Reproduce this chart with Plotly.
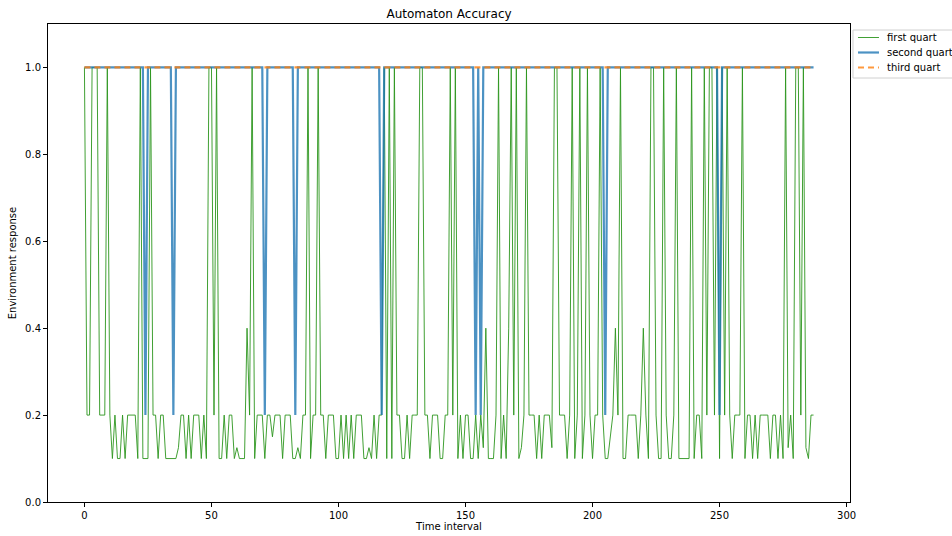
import plotly.graph_objects as go

# Time axis
time_interval = list(range(288))

# first quart (green) environment response
first_quart = [
    1.0, 0.2, 0.2, 1.0, 1.0, 1.0, 0.2, 0.2, 0.2, 1.0,
    0.2, 0.1, 0.2, 0.1, 0.1, 0.2, 0.1, 0.2, 0.2, 0.2,
    0.2, 0.1, 1.0, 0.1, 0.1, 0.1, 1.0, 0.2, 0.2, 0.1,
    0.2, 0.2, 0.1, 0.1, 0.1, 0.1, 0.1, 0.125, 0.2, 0.2,
    0.1, 0.2, 0.1, 0.2, 0.2, 0.2, 0.1, 0.2, 0.1, 1.0,
    1.0, 0.2, 1.0, 0.1, 0.1, 0.2, 0.1, 0.2, 0.2, 0.1,
    0.125, 0.1, 0.1, 0.1, 0.4, 0.2, 1.0, 0.1, 0.2, 0.2,
    0.2, 0.1, 0.2, 0.2, 0.15, 0.2, 0.2, 0.2, 0.1, 0.2,
    0.2, 0.2, 0.1, 0.1, 0.125, 0.1, 0.2, 0.2, 1.0, 0.1,
    0.2, 0.2, 1.0, 0.2, 0.2, 0.1, 0.2, 0.2, 0.2, 0.1,
    0.1, 0.2, 0.1, 0.2, 0.1, 0.2, 0.1, 0.2, 0.2, 0.2,
    0.1, 0.1, 0.125, 0.1, 0.2, 0.1, 0.2, 0.2, 1.0, 0.1,
    1.0, 0.1, 1.0, 0.2, 0.2, 0.1, 0.1, 0.2, 0.1, 0.2,
    0.2, 0.2, 1.0, 1.0, 0.2, 0.2, 0.1, 0.2, 0.2, 0.2,
    0.1, 0.1, 0.2, 0.2, 1.0, 0.2, 1.0, 0.1, 0.2, 0.1,
    0.2, 0.2, 0.1, 0.1, 0.2, 0.1, 0.2, 0.125, 0.4, 0.1,
    0.1, 0.1, 0.2, 1.0, 0.1, 0.2, 0.1, 0.4, 1.0, 0.2,
    1.0, 0.1, 0.125, 0.2, 1.0, 0.2, 0.2, 0.2, 0.1, 0.2,
    0.1, 0.2, 0.2, 0.2, 0.125, 1.0, 1.0, 0.2, 0.2, 0.2,
    0.1, 0.2, 1.0, 0.1, 0.2, 1.0, 0.1, 0.2, 1.0, 0.2,
    0.1, 0.2, 0.2, 1.0, 0.2, 0.1, 0.1, 0.15, 0.2, 0.4,
    0.2, 1.0, 0.1, 0.1, 0.2, 0.2, 0.2, 0.2, 0.1, 0.2,
    0.4, 0.2, 0.1, 1.0, 1.0, 0.2, 0.1, 0.1, 1.0, 0.2,
    0.1, 0.1, 0.2, 1.0, 0.1, 0.1, 0.1, 0.1, 0.1, 1.0,
    0.1, 0.2, 0.2, 0.1, 1.0, 0.2, 1.0, 1.0, 0.2, 1.0,
    0.1, 1.0, 0.2, 1.0, 0.2, 0.1, 0.2, 0.2, 0.2, 1.0,
    0.1, 0.2, 0.2, 0.1, 0.2, 0.1, 0.2, 0.2, 0.2, 0.2,
    0.1, 0.2, 0.2, 0.1, 0.2, 0.1, 1.0, 0.125, 0.2, 0.1,
    1.0, 1.0, 0.2, 1.0, 0.125, 0.1, 0.2, 0.2,
]

# second quart (blue): dips to 0.2 at these intervals, 1.0 elsewhere
second_quart_dip_times = [24, 35, 71, 83, 117, 154, 156, 205, 250]
second_quart_dip_value = 0.2
second_quart = [second_quart_dip_value if t in second_quart_dip_times else 1.0
                for t in time_interval]

# third quart (orange dashed): constant
third_quart = [1.0 for _ in time_interval]

series_names = ["first quart", "second quart", "third quart"]
x_ticks = [0, 50, 100, 150, 200, 250, 300]
y_ticks = [0.0, 0.2, 0.4, 0.6, 0.8, 1.0]

GREEN = "rgba(44,150,30,0.9)"
BLUE = "rgba(31,119,180,0.8)"
ORANGE = "rgba(255,127,14,0.8)"
styles = [
    dict(color=GREEN, width=1),
    dict(color=BLUE, width=2.2),
    dict(color=ORANGE, width=2.2, dash="6px,4px"),
]

fig = go.Figure()
for name, ys, st in zip(series_names, [first_quart, second_quart, third_quart], styles):
    fig.add_trace(go.Scatter(x=time_interval, y=ys, name=name, mode="lines",
                             line=st, showlegend=False))

axis_common = dict(
    showgrid=False, zeroline=False, showline=True, linecolor="black", linewidth=1,
    mirror=True, ticks="outside", ticklen=4, tickcolor="black",
    tickfont=dict(size=10, color="black"), automargin=False,
)

W, H = 952, 536
L, R, T, B = 47.5, 102, 24, 34
pw, ph = W - L - R, H - T - B


def px_x(px):
    return (px - L) / pw


def px_y(py):
    return (H - B - py) / ph


# legend drawn outside the axes, at the right (as in the reference)
shapes = [dict(type="rect", xref="paper", yref="paper",
               x0=px_x(853), x1=px_x(975), y0=px_y(78), y1=px_y(30),
               line=dict(color="#d0d0d0", width=1), fillcolor="white", layer="above")]
annotations = []
row_y = [37.5, 52.5, 67.5]
for name, st, ry in zip(series_names, styles, row_y):
    shapes.append(dict(type="line", xref="paper", yref="paper",
                       x0=px_x(858), x1=px_x(879), y0=px_y(ry), y1=px_y(ry),
                       line=st, layer="above"))
    annotations.append(dict(text=name, xref="paper", yref="paper",
                            x=px_x(885), y=px_y(ry), xanchor="left", yanchor="middle",
                            showarrow=False, font=dict(size=10, color="black")))

fig.update_layout(
    width=W, height=H,
    margin=dict(l=L, r=R, t=T, b=B, autoexpand=False),
    paper_bgcolor="white", plot_bgcolor="white",
    font=dict(family="DejaVu Sans", size=10, color="black"),
    title=dict(text="Automaton Accuracy", x=0.5, xref="paper", xanchor="center",
               y=1 - 14 / H, yref="container", yanchor="middle",
               font=dict(size=12, color="black")),
    xaxis=dict(range=[-14.35, 301.35], tickvals=x_ticks,
               title=dict(text="Time interval", standoff=2, font=dict(size=10)),
               **axis_common),
    yaxis=dict(range=[0, 1.1], tickvals=y_ticks, tickformat=".1f",
               title=dict(text="Environment response", standoff=6, font=dict(size=10)),
               **axis_common),
    shapes=shapes,
    annotations=annotations,
    showlegend=False,
)

fig.write_html(
    "out.html",
    config={"displayModeBar": False},
    post_script="document.body.style.margin='0';document.body.style.overflow='hidden';",
)
